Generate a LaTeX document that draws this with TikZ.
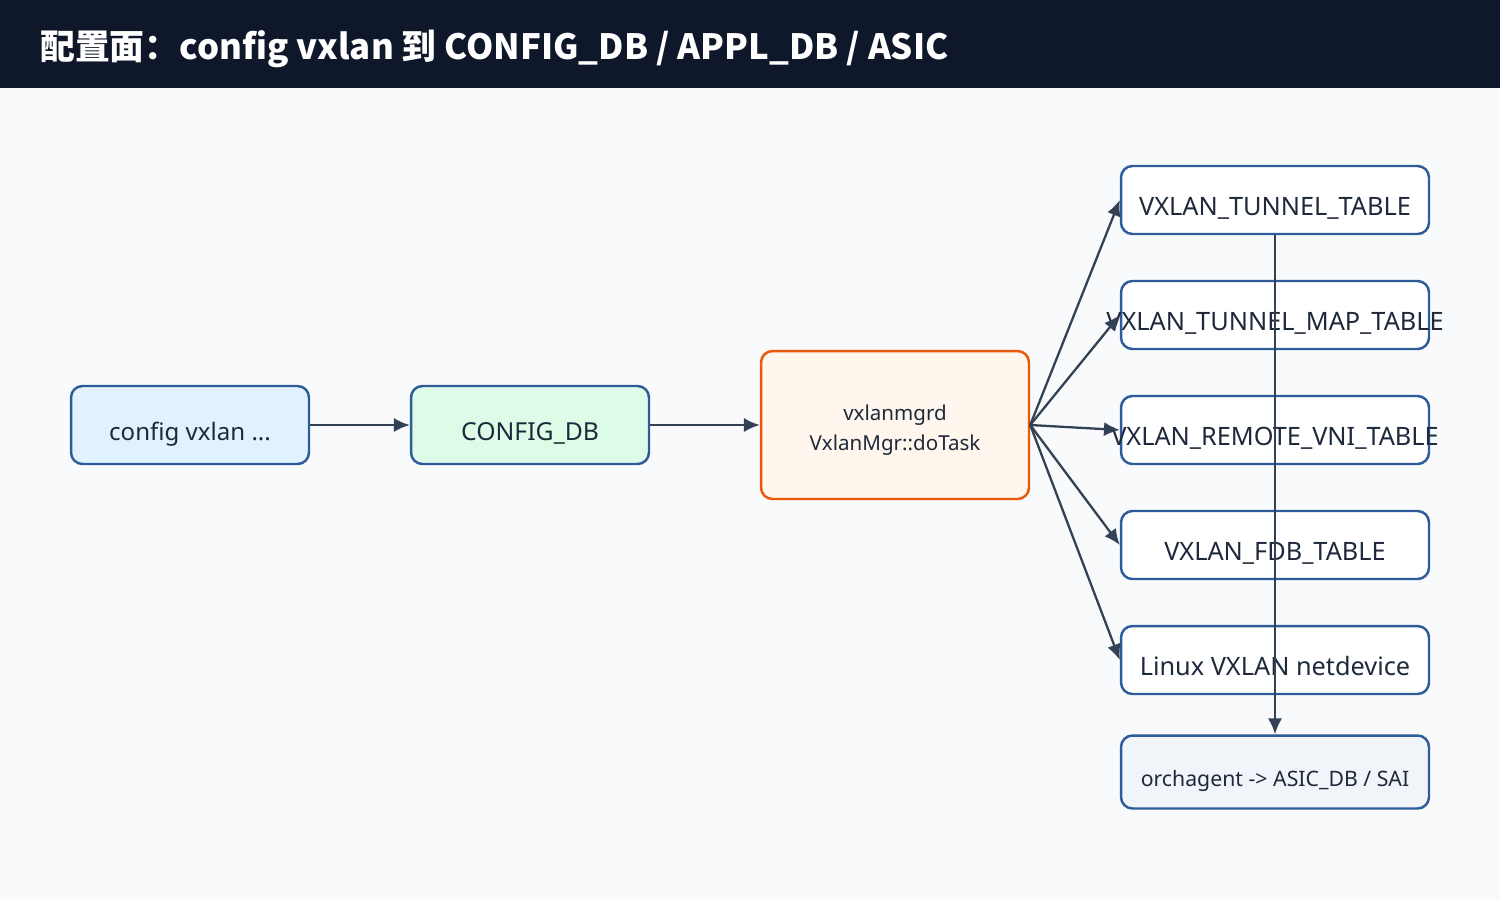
\documentclass[tikz,border=0pt]{standalone}
\usepackage{fontspec}
\setmainfont{Noto Sans}
\newfontfamily\cjk{Noto Sans CJK SC}
\usetikzlibrary{positioning, arrows.meta}
\definecolor{bg}{HTML}{F8FAFC}
\definecolor{bar}{HTML}{0F172A}
\definecolor{ink}{HTML}{1E293B}
\definecolor{wire}{HTML}{334155}
\definecolor{boxblue}{HTML}{2E5C9A}
\definecolor{clifill}{HTML}{E0F2FE}
\definecolor{dbfill}{HTML}{DCFCE7}
\definecolor{mgrline}{HTML}{EA580C}
\definecolor{mgrfill}{HTML}{FFF7ED}
\definecolor{orchfill}{HTML}{F1F5F9}
\tikzset{
  box/.style={draw=boxblue, line width=1.4pt, rounded corners=6.5pt, inner sep=0pt,
    text=ink, text height=18pt, text depth=0pt, font=\fontsize{14.2}{17}\selectfont},
  flow/.style={draw=wire, line width=1.3pt, -{Latex[length=9pt,width=8pt]}},
}

\begin{document}
\begin{tikzpicture}[x=0.02cm, y=-0.02cm]
    \fill[bg] (0,0) rectangle (1500,900);
    \fill[bar] (0,0) rectangle (1500,88);
    \node[anchor=west, inner sep=0pt, text=white, font=\cjk\bfseries\fontsize{19.8}{23}\selectfont] (title) at (40,49)
        {配置面：config vxlan 到 CONFIG\_DB / APPL\_DB / ASIC};

    \node[box, fill=clifill, minimum width=4.76cm, minimum height=1.56cm,
        font=\fontsize{13.7}{16}\selectfont] (cli) at (190,425) {config vxlan ...};
    \node[box, fill=dbfill, minimum width=4.76cm, minimum height=1.56cm,
        font=\fontsize{14.1}{17}\selectfont] (cfgdb) at (530,425) {CONFIG\_DB};
    \node[box, draw=mgrline, fill=mgrfill, minimum width=5.36cm, minimum height=2.96cm,
        label={[align=center, text=ink, font=\fontsize{11.7}{17}\selectfont, yshift=-2.8pt]center:vxlanmgrd\\VxlanMgr::doTask}]
        (mgr) at (895,425) {};

    % tables written by vxlanmgrd
    \foreach \n/\y/\t in {tun/200/VXLAN\_TUNNEL\_TABLE, map/315/VXLAN\_TUNNEL\_MAP\_TABLE,
        rvni/430/VXLAN\_REMOTE\_VNI\_TABLE, fdb/545/VXLAN\_FDB\_TABLE, dev/660/Linux VXLAN netdevice}
        \node[box, fill=white, minimum width=6.16cm, minimum height=1.36cm,
            font=\fontsize{14.4}{17}\selectfont] (\n) at (1275,\y) {\makebox[0pt]{\t}};
    \node[box, fill=orchfill, minimum width=6.16cm, minimum height=1.46cm, text height=16.5pt,
        font=\fontsize{12.1}{14}\selectfont] (orch) at (1275,772) {orchagent -> ASIC\_DB / SAI};

    \draw[flow] (cli) -- (cfgdb);
    \draw[flow] (cfgdb) -- (mgr);
    \foreach \n in {tun,map,rvni,fdb,dev}\draw[flow] (mgr.east) -- (\n.west);
    \draw[flow] (tun.south) -- (orch.north);
\end{tikzpicture}
\end{document}
